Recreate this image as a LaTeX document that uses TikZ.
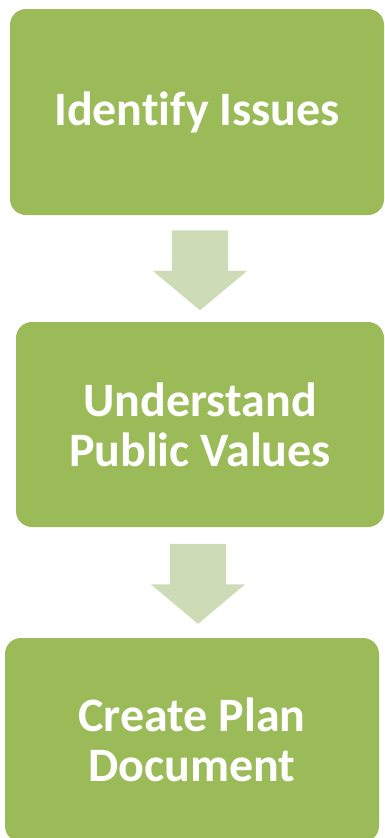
\documentclass[tikz,border=0pt]{standalone}
\usepackage{fontspec}
\setmainfont[Ligatures=NoCommon]{Carlito}
\usetikzlibrary{shapes.arrows}

\definecolor{stepgreen}{HTML}{9BBB59}
\definecolor{arrowgreen}{HTML}{CDDCB6}

\tikzset{
  stepbox/.style={rectangle,rounded corners=16pt,fill=stepgreen,text=white,
    align=center,inner sep=0pt,
    font=\fontsize{48}{50}\selectfont\bfseries},
  downarrow/.style={single arrow,shape border rotate=270,fill=arrowgreen,
    inner sep=28pt,minimum width=94pt,minimum height=77pt,
    single arrow head extend=19pt,single arrow tip angle=100}
}

\begin{document}
\begin{tikzpicture}[x=1pt,y=-1pt]
\useasboundingbox (0,0) rectangle (385,838);

\node[stepbox,minimum width=374pt,minimum height=206pt] (issues) at (197,112) {Identify Issues};
\node[stepbox,minimum width=368pt,minimum height=205pt] (values) at (200,424.5) {Understand\\Public Values};
\node[stepbox,minimum width=374pt,minimum height=204pt] (plan) at (192,740) {Create Plan\\Document};

\node[downarrow] (a1) at (200,258.5) {};
\node[downarrow] (a2) at (198,572) {};
\end{tikzpicture}
\end{document}
